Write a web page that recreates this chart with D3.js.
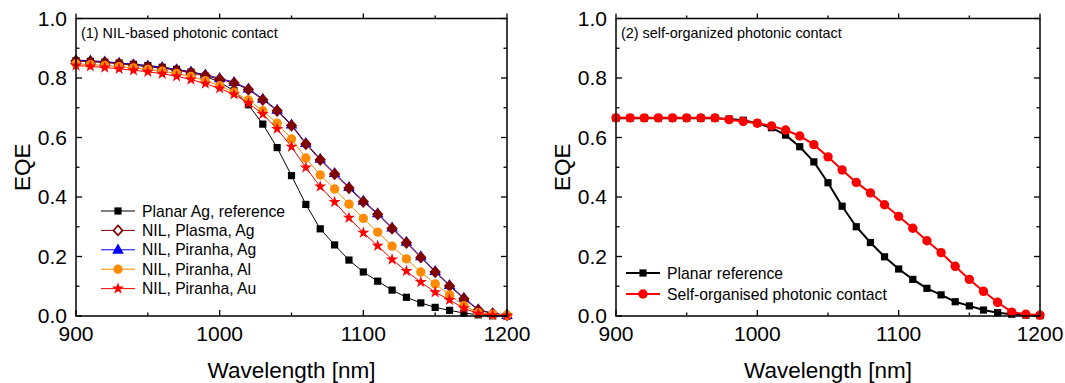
<!DOCTYPE html>
<html>
<head>
<meta charset="utf-8">
<script src="https://cdn.jsdelivr.net/npm/d3@7"></script>
<style>
  html, body { margin: 0; padding: 0; background: #fff; }
  svg { display: block; font-family: "Liberation Sans", Arial, sans-serif; }
</style>
</head>
<body>
<svg id="chart" width="1065" height="383"></svg>
<script>
// wavelength grid (nm)
const wavelengths = [900, 910, 920, 930, 940, 950, 960, 970, 980, 990, 1000,
  1010, 1020, 1030, 1040, 1050, 1060, 1070, 1080, 1090, 1100,
  1110, 1120, 1130, 1140, 1150, 1160, 1170, 1180, 1190, 1200];

// panel (1) NIL-based photonic contact
const planarAgRef = [0.858, 0.856, 0.853, 0.850, 0.846, 0.842, 0.836, 0.829, 0.820, 0.806, 0.786,
  0.757, 0.710, 0.645, 0.566, 0.472, 0.375, 0.293, 0.239, 0.188, 0.148,
  0.117, 0.087, 0.063, 0.044, 0.029, 0.019, 0.010, 0.004, 0.001, 0.000];
const nilPlasmaAg = [0.857, 0.855, 0.852, 0.848, 0.843, 0.838, 0.833, 0.826, 0.818, 0.808, 0.796,
  0.783, 0.761, 0.727, 0.690, 0.640, 0.578, 0.525, 0.477, 0.430, 0.384,
  0.342, 0.294, 0.246, 0.197, 0.148, 0.101, 0.058, 0.020, 0.008, 0.003];
const nilPiranhaAg = [0.860, 0.858, 0.855, 0.851, 0.846, 0.841, 0.836, 0.829, 0.821, 0.811, 0.799,
  0.786, 0.764, 0.730, 0.693, 0.643, 0.581, 0.528, 0.480, 0.433, 0.387,
  0.345, 0.297, 0.249, 0.200, 0.151, 0.104, 0.061, 0.022, 0.009, 0.003];
const nilPiranhaAl = [0.848, 0.845, 0.842, 0.838, 0.834, 0.829, 0.823, 0.815, 0.805, 0.791, 0.774,
  0.752, 0.726, 0.690, 0.648, 0.595, 0.531, 0.474, 0.427, 0.376, 0.328,
  0.282, 0.235, 0.192, 0.148, 0.108, 0.071, 0.035, 0.011, 0.006, 0.003];
const nilPiranhaAu = [0.842, 0.839, 0.835, 0.831, 0.826, 0.821, 0.814, 0.806, 0.795, 0.781, 0.765,
  0.745, 0.715, 0.679, 0.629, 0.569, 0.499, 0.435, 0.383, 0.330, 0.280,
  0.236, 0.190, 0.151, 0.114, 0.080, 0.054, 0.026, 0.008, 0.003, 0.002];

// panel (2) self-organized photonic contact
const planarRef = [0.665, 0.665, 0.665, 0.665, 0.665, 0.665, 0.665, 0.665, 0.662, 0.658, 0.648,
  0.633, 0.608, 0.569, 0.518, 0.448, 0.369, 0.300, 0.247, 0.199, 0.158,
  0.123, 0.093, 0.071, 0.048, 0.034, 0.020, 0.011, 0.006, 0.003, 0.001];
const selfOrganised = [0.666, 0.666, 0.666, 0.666, 0.666, 0.666, 0.666, 0.666, 0.660, 0.654, 0.648,
  0.639, 0.625, 0.605, 0.576, 0.535, 0.491, 0.449, 0.414, 0.374, 0.335,
  0.295, 0.253, 0.213, 0.167, 0.123, 0.083, 0.046, 0.013, 0.006, 0.003];

const xTicks = [900, 1000, 1100, 1200];
const xMinor = [950, 1050, 1150];
const yTicks = [0.0, 0.2, 0.4, 0.6, 0.8, 1.0];
const yMinor = [0.1, 0.3, 0.5, 0.7, 0.9];

const panels = [
  {
    left: 76, right: 507, top: 18.5, bottom: 316,
    title: '(1) NIL-based photonic contact',
    lineWidth: 1,
    legend: { x: 101, y: 211, dy: 19.4, len: 34 },
    series: [
      { label: 'Planar Ag, reference', values: planarAgRef, color: '#000000', symbol: 'square' },
      { label: 'NIL, Piranha, Ag', values: nilPiranhaAg, color: '#0000ff', symbol: 'triangle', legendRow: 2 },
      { label: 'NIL, Plasma, Ag', values: nilPlasmaAg, color: '#800000', symbol: 'diamond', legendRow: 1 },
      { label: 'NIL, Piranha, Al', values: nilPiranhaAl, color: '#ff8c00', symbol: 'circle', legendRow: 3 },
      { label: 'NIL, Piranha, Au', values: nilPiranhaAu, color: '#ff0000', symbol: 'star', legendRow: 4 }
    ]
  },
  {
    left: 616, right: 1040, top: 18.5, bottom: 316,
    title: '(2) self-organized photonic contact',
    lineWidth: 2,
    legend: { x: 626, y: 273, dy: 21, len: 34 },
    series: [
      { label: 'Planar reference', values: planarRef, color: '#000000', symbol: 'square' },
      { label: 'Self-organised photonic contact', values: selfOrganised, color: '#ff0000', symbol: 'circle' }
    ]
  }
];

const svg = d3.select('#chart');

// diamond a little wider than d3's own, like the plotting program's
const diamondPath = 'M0,-5L4.6,0L0,5L-4.6,0Z';

function drawMarker(g, type, color, x, y, legend) {
    if (type === 'square') {
        g.append('rect').attr('x', x - 3.6).attr('y', y - 3.6)
            .attr('width', 7.2).attr('height', 7.2).attr('fill', color);
    } else if (type === 'circle') {
        g.append('circle').attr('cx', x).attr('cy', y).attr('r', 4.7).attr('fill', color);
    } else if (type === 'diamond') {
        const p = g.append('path').attr('d', diamondPath)
            .attr('transform', `translate(${x},${y})`)
            .attr('stroke', color).attr('stroke-width', 1.6);
        p.attr('fill', legend ? '#fff' : color);
    } else {
        const sym = { triangle: d3.symbolTriangle, star: d3.symbolStar }[type];
        const size = { triangle: 58, star: 46 }[type];
        g.append('path')
            .attr('d', d3.symbol().type(sym).size(size)())
            .attr('transform', `translate(${x},${y + (type === 'triangle' ? 0.5 : 0)})`)
            .attr('fill', color);
    }
}

panels.forEach(panel => {
    const x = d3.scaleLinear().domain([900, 1200]).range([panel.left, panel.right]);
    const y = d3.scaleLinear().domain([0, 1]).range([panel.bottom, panel.top]);
    const g = svg.append('g');

    // data lines and markers (drawn under the frame)
    const line = d3.line().x((d, i) => x(wavelengths[i])).y(d => y(d));
    panel.series.forEach(s => {
        g.append('path')
            .datum(s.values)
            .attr('d', line)
            .attr('fill', 'none')
            .attr('stroke', s.color)
            .attr('stroke-width', panel.lineWidth);
        const mg = g.append('g');
        s.values.forEach((v, i) => drawMarker(mg, s.symbol, s.color, x(wavelengths[i]), y(v), false));
    });

    // frame
    g.append('rect')
        .attr('x', panel.left).attr('y', panel.top)
        .attr('width', panel.right - panel.left).attr('height', panel.bottom - panel.top)
        .attr('fill', 'none').attr('stroke', '#000').attr('stroke-width', 1.5);

    const tick = (x1, y1, x2, y2) => g.append('line')
        .attr('x1', x1).attr('y1', y1).attr('x2', x2).attr('y2', y2)
        .attr('stroke', '#000').attr('stroke-width', 1.3);

    xTicks.forEach(t => { tick(x(t), panel.bottom, x(t), panel.bottom - 6); tick(x(t), panel.top, x(t), panel.top - 5); });
    xMinor.forEach(t => { tick(x(t), panel.bottom, x(t), panel.bottom - 3.5); tick(x(t), panel.top, x(t), panel.top - 3); });
    yTicks.forEach(t => { tick(panel.left, y(t), panel.left + 6, y(t)); tick(panel.right, y(t), panel.right - 6, y(t)); });
    yMinor.forEach(t => { tick(panel.left, y(t), panel.left + 3.5, y(t)); tick(panel.right, y(t), panel.right - 3.5, y(t)); });

    // tick labels
    xTicks.forEach(t => g.append('text')
        .attr('x', x(t)).attr('y', panel.bottom + 25)
        .attr('text-anchor', 'middle').attr('font-size', 21).text(t));
    yTicks.forEach(t => g.append('text')
        .attr('x', panel.left - 9).attr('y', y(t) + 7)
        .attr('text-anchor', 'end').attr('font-size', 21).text(t.toFixed(1)));

    // axis titles
    g.append('text')
        .attr('x', (panel.left + panel.right) / 2).attr('y', panel.bottom + 62)
        .attr('text-anchor', 'middle').attr('font-size', 22.5).text('Wavelength [nm]');
    g.append('text')
        .attr('transform', `translate(${panel.left - 46},${(panel.top + panel.bottom) / 2}) rotate(-90)`)
        .attr('text-anchor', 'middle').attr('font-size', 22.5).text('EQE');

    // panel label
    g.append('text')
        .attr('x', panel.left + 5).attr('y', panel.top + 19)
        .attr('font-size', 14.4).text(panel.title);

    // legend
    const lg = g.append('g');
    panel.series.forEach((s, i) => {
        const row = s.legendRow !== undefined ? s.legendRow : i;
        const ly = panel.legend.y + row * panel.legend.dy;
        lg.append('line')
            .attr('x1', panel.legend.x).attr('x2', panel.legend.x + panel.legend.len)
            .attr('y1', ly).attr('y2', ly)
            .attr('stroke', s.color).attr('stroke-width', panel.lineWidth);
        drawMarker(lg, s.symbol, s.color, panel.legend.x + panel.legend.len / 2, ly, true);
        lg.append('text')
            .attr('x', panel.legend.x + panel.legend.len + 7).attr('y', ly + 5.5)
            .attr('font-size', 15.7).text(s.label);
    });
});
</script>
</body>
</html>
